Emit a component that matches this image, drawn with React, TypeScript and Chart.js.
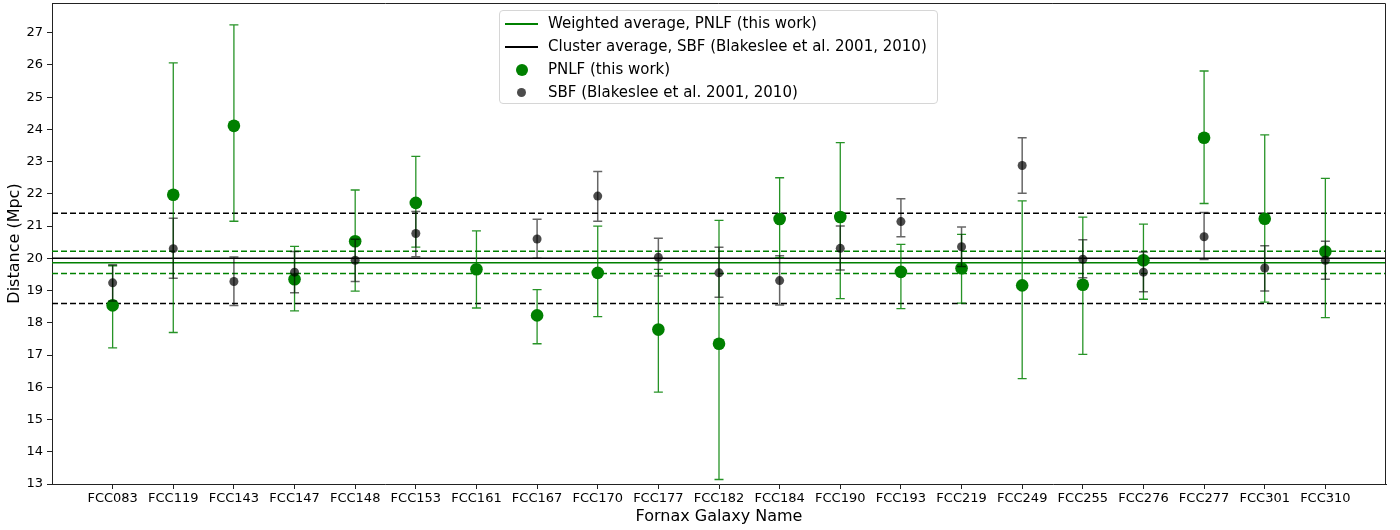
import React, { useRef, useEffect } from 'react';
import { Chart, registerables } from 'chart.js';

Chart.register(...registerables);

// galaxy names along the x axis
const galaxies = [
  'FCC083', 'FCC119', 'FCC143', 'FCC147', 'FCC148', 'FCC153', 'FCC161',
  'FCC167', 'FCC170', 'FCC177', 'FCC182', 'FCC184', 'FCC190', 'FCC193',
  'FCC219', 'FCC249', 'FCC255', 'FCC276', 'FCC277', 'FCC301', 'FCC310',
];

// PNLF distances (Mpc) with upper / lower error ends
const pnlf = [18.54, 21.97, 24.11, 19.35, 20.53, 21.72, 19.66, 18.23, 19.55, 17.79, 17.35, 21.22, 21.28, 19.58, 19.69, 19.16, 19.18, 19.94, 23.74, 21.23, 20.21];
const pnlfHi = [19.77, 26.06, 27.24, 20.37, 22.12, 23.16, 20.85, 19.03, 21.0, 19.66, 21.18, 22.5, 23.59, 20.43, 20.74, 21.78, 21.28, 21.06, 25.81, 23.83, 22.48];
const pnlfLo = [17.22, 17.7, 21.15, 18.37, 18.98, 20.35, 18.46, 17.35, 18.19, 15.85, 13.14, 20.02, 18.75, 18.44, 18.61, 16.27, 17.02, 18.73, 21.7, 18.64, 18.16];

// SBF distances (Blakeslee et al.), no value for FCC161
const sbf = [19.24, 20.3, 19.28, 19.57, 19.94, 20.77, null, 20.6, 21.93, 20.03, 19.55, 19.31, 20.31, 21.14, 20.36, 22.88, 19.97, 19.57, 20.67, 19.7, 19.94];
const sbfHi = [19.8, 21.24, 20.04, 20.21, 20.59, 21.45, null, 21.21, 22.69, 20.62, 20.34, 20.08, 21.0, 21.85, 20.97, 23.74, 20.58, 20.2, 21.42, 20.39, 20.53];
const sbfLo = [18.68, 19.38, 18.54, 18.93, 19.28, 20.05, null, 20.0, 21.15, 19.45, 18.79, 18.55, 19.64, 20.67, 19.75, 22.02, 19.4, 18.96, 19.96, 18.99, 19.35];

// averages
const pnlfAvg = 19.86;
const pnlfAvgBand = [19.53, 20.22];
const sbfAvg = 20.0;
const sbfAvgBand = [18.6, 21.4];

const X_MIN = -1;
const X_MAX = galaxies.length;

const errorBars: Record<string, { lo: (number | null)[]; hi: (number | null)[]; color: string; width: number; cap: number }> = {
  pnlf: { lo: pnlfLo, hi: pnlfHi, color: 'rgba(0,128,0,0.85)', width: 1.3, cap: 4.5 },
  sbf: { lo: sbfLo, hi: sbfHi, color: 'rgba(0,0,0,0.6)', width: 1.5, cap: 4.5 },
};

const errorBarPlugin = {
  id: 'errorBars',
  beforeDatasetDraw(chart: any, args: any) {
    const ds = chart.data.datasets[args.index];
    const eb = errorBars[ds.key];
    if (!eb) return;
    const { ctx } = chart;
    const x = chart.scales.x;
    const y = chart.scales.y;
    ctx.save();
    ctx.strokeStyle = eb.color;
    ctx.lineWidth = eb.width;
    ds.data.forEach((p: any) => {
      const lo = eb.lo[p.x];
      const hi = eb.hi[p.x];
      if (lo == null || hi == null) return;
      const px = x.getPixelForValue(p.x);
      const yLo = y.getPixelForValue(lo);
      const yHi = y.getPixelForValue(hi);
      ctx.beginPath();
      ctx.moveTo(px, yLo);
      ctx.lineTo(px, yHi);
      ctx.moveTo(px - eb.cap, yLo);
      ctx.lineTo(px + eb.cap, yLo);
      ctx.moveTo(px - eb.cap, yHi);
      ctx.lineTo(px + eb.cap, yHi);
      ctx.stroke();
    });
    ctx.restore();
  },
};

// top and right spines
const framePlugin = {
  id: 'frame',
  afterDraw(chart: any) {
    const { ctx, chartArea: a } = chart;
    ctx.save();
    ctx.strokeStyle = '#222';
    ctx.lineWidth = 1;
    ctx.beginPath();
    ctx.moveTo(a.left, a.top + 0.5);
    ctx.lineTo(a.right - 0.5, a.top + 0.5);
    ctx.lineTo(a.right - 0.5, a.bottom);
    ctx.stroke();
    ctx.restore();
  },
};

const hline = (v: number, color: string, dash: number[], order: number) => ({
  type: 'line' as const,
  data: [{ x: X_MIN, y: v }, { x: X_MAX, y: v }],
  borderColor: color,
  borderWidth: 1.5,
  borderDash: dash,
  pointRadius: 0,
  showLine: true,
  fill: false,
  order,
});

const App: React.FC = () => {
  const chartRef = useRef<HTMLCanvasElement>(null);
  const chartInstance = useRef<Chart | null>(null);

  useEffect(() => {
    document.body.style.margin = '0';
    if (!chartRef.current) return;
    if (chartInstance.current) chartInstance.current.destroy();

    const pnlfPts = galaxies.map((_, i) => ({ x: i, y: pnlf[i] }));
    const sbfPts = galaxies
      .map((_, i) => ({ x: i, y: sbf[i] }))
      .filter((p) => p.y != null);

    chartInstance.current = new Chart(chartRef.current, {
      type: 'scatter',
      data: {
        datasets: [
          hline(sbfAvgBand[0], '#000', [6, 3], 10),
          hline(sbfAvgBand[1], '#000', [6, 3], 10),
          hline(pnlfAvgBand[0], '#008000', [6, 3], 10),
          hline(pnlfAvgBand[1], '#008000', [6, 3], 10),
          hline(sbfAvg, '#000', [], 9),
          hline(pnlfAvg, '#008000', [], 9),
          {
            key: 'pnlf',
            label: 'PNLF (this work)',
            data: pnlfPts,
            backgroundColor: '#008000',
            borderWidth: 0,
            pointRadius: 6.3,
            order: 2,
          } as any,
          {
            key: 'sbf',
            label: 'SBF (Blakeslee et al. 2001, 2010)',
            data: sbfPts,
            backgroundColor: 'rgba(0,0,0,0.7)',
            borderWidth: 0,
            pointRadius: 4.5,
            order: 1,
          } as any,
        ],
      },
      options: {
        animation: false,
        responsive: true,
        maintainAspectRatio: false,
        layout: { padding: { top: 3, right: 14, left: 0, bottom: 0 }, autoPadding: false } as any,
        plugins: {
          legend: { display: false },
          tooltip: { enabled: false },
        },
        scales: {
          x: {
            type: 'linear',
            min: X_MIN,
            max: X_MAX,
            afterBuildTicks: (scale: any) => {
              scale.ticks = galaxies.map((_, i) => ({ value: i }));
            },
            afterFit: (scale: any) => {
              scale.height = 46;
              scale.paddingLeft = 0;
              scale.paddingRight = 0;
            },
            ticks: {
              autoSkip: false,
              maxRotation: 0,
              padding: 2,
              color: '#000',
              font: { size: 13, family: 'DejaVu Sans' },
              callback: (v: any) => galaxies[v] ?? '',
            },
            grid: { display: true, drawOnChartArea: false, drawTicks: true, tickLength: 5, color: '#222' },
            border: { display: true, color: '#222', width: 1 },
            title: {
              display: true,
              text: 'Fornax Galaxy Name',
              color: '#000',
              font: { size: 16, family: 'DejaVu Sans' },
              padding: { top: 0, bottom: 4 },
            },
          },
          y: {
            type: 'linear',
            min: 13,
            max: 27.92,
            afterBuildTicks: (scale: any) => {
              scale.ticks = scale.ticks.filter((t: any) => Number.isInteger(t.value));
            },
            afterFit: (scale: any) => {
              scale.width = 52;
              scale.paddingTop = 0;
              scale.paddingBottom = 0;
            },
            ticks: {
              stepSize: 1,
              padding: 4,
              color: '#000',
              font: { size: 13, family: 'DejaVu Sans' },
            },
            grid: { display: true, drawOnChartArea: false, drawTicks: true, tickLength: 5, color: '#222' },
            border: { display: true, color: '#222', width: 1 },
            title: {
              display: true,
              text: 'Distance (Mpc)',
              color: '#000',
              font: { size: 16, family: 'DejaVu Sans' },
              padding: { top: 5, bottom: 0 },
            },
          },
        },
      },
      plugins: [errorBarPlugin, framePlugin],
    });

    return () => {
      if (chartInstance.current) {
        chartInstance.current.destroy();
        chartInstance.current = null;
      }
    };
  }, []);

  const legendRow = (swatch: React.ReactNode, text: string) => (
    <div style={{ display: 'flex', alignItems: 'center', height: 23 }}>
      <div style={{ width: 44, display: 'flex', alignItems: 'center', justifyContent: 'flex-start', paddingLeft: 1, boxSizing: 'border-box' }}>
        <div style={{ width: 33, display: 'flex', justifyContent: 'center', alignItems: 'center' }}>{swatch}</div>
      </div>
      <span>{text}</span>
    </div>
  );

  return (
    <div style={{ position: 'relative', width: 1400, height: 530, fontFamily: 'DejaVu Sans' }}>
      <canvas ref={chartRef}></canvas>
      <div
        style={{
          position: 'absolute',
          left: 499,
          top: 10,
          width: 439,
          height: 94,
          border: '1px solid #d6d6d6',
          borderRadius: 4,
          background: 'rgba(255,255,255,0.85)',
          fontSize: 15,
          color: '#000',
          padding: '1px 0 0 4px',
          boxSizing: 'border-box',
          lineHeight: '23px',
        }}
      >
        {legendRow(<div style={{ width: 33, height: 2, background: '#008000' }} />, 'Weighted average, PNLF (this work)')}
        {legendRow(<div style={{ width: 33, height: 2, background: '#000' }} />, 'Cluster average, SBF (Blakeslee et al. 2001, 2010)')}
        {legendRow(<div style={{ width: 12, height: 12, borderRadius: 6, background: '#008000' }} />, 'PNLF (this work)')}
        {legendRow(<div style={{ width: 9, height: 9, borderRadius: 5, background: 'rgba(0,0,0,0.7)' }} />, 'SBF (Blakeslee et al. 2001, 2010)')}
      </div>
    </div>
  );
};

export default App;
